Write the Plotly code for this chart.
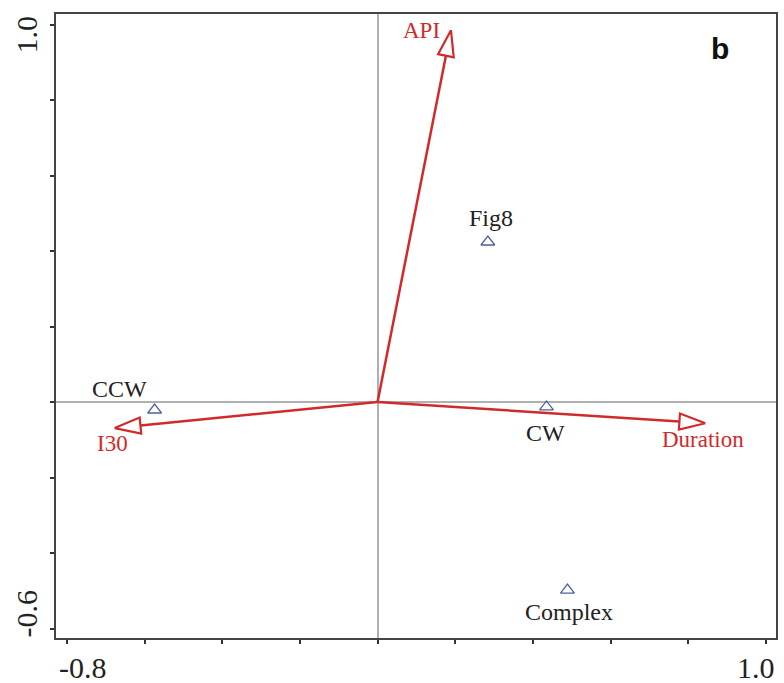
import numpy as np
import plotly.graph_objects as go

# Sample (site) scores
site_names = ["Fig8", "CCW", "CW", "Complex"]
site_x = [0.284, -0.574, 0.435, 0.489]
site_y = [0.424, -0.021, -0.013, -0.498]

# Environmental variable arrows (tips)
env_names = ["API", "I30", "Duration"]
env_x = [0.189, -0.677, 0.844]
env_y = [0.985, -0.069, -0.056]

# Axis ticks
tick_x = [-0.8, -0.6, -0.4, -0.2, 0.0, 0.2, 0.4, 0.6, 0.8, 1.0]
tick_y = [-0.6, -0.4, -0.2, 0.0, 0.2, 0.4, 0.6, 0.8, 1.0]
xlabels = {-0.8: "-0.8", 1.0: "1.0"}
ylabels = {-0.6: "-0.6", 1.0: "1.0"}

W, H = 784, 683
ML, MR, MT, MB = 56, 6, 14, 45
XR = [-0.828, 1.026]
YR = [-0.625, 1.028]
sx = (W - ML - MR) / (XR[1] - XR[0])
sy = (H - MT - MB) / (YR[1] - YR[0])

RED = "#d12a2a"
BLUE = "#4f5f9c"
SERIF = "Liberation Serif, Times New Roman, serif"

fig = go.Figure()

# arrows
for name, tx, ty in zip(env_names, env_x, env_y):
    px, py = tx * sx, ty * sy
    n = np.hypot(px, py)
    ux, uy = px / n, py / n
    L, Wd = 26, 8
    bx, by = px - L * ux, py - L * uy
    nx, ny = -uy, ux
    fig.add_trace(go.Scatter(x=[0, bx / sx], y=[0, by / sy], mode="lines",
                             line=dict(color=RED, width=2.5), hoverinfo="skip",
                             showlegend=False))
    hx = [tx, (bx + Wd * nx) / sx, (bx - Wd * nx) / sx, tx]
    hy = [ty, (by + Wd * ny) / sy, (by - Wd * ny) / sy, ty]
    fig.add_trace(go.Scatter(x=hx, y=hy, mode="lines", fill="toself",
                             fillcolor="white", line=dict(color=RED, width=2.2),
                             hoverinfo="skip", showlegend=False))

fig.add_trace(go.Scatter(x=site_x, y=site_y, mode="markers",
                         marker=dict(symbol="triangle-up-open", size=12,
                                     color=BLUE, line=dict(width=1.3)),
                         showlegend=False))

annotations = []
site_shift = {"Fig8": (3, 24), "CCW": (-35, 21), "CW": (-1, -26), "Complex": (2, -22)}
for name, x, y in zip(site_names, site_x, site_y):
    dx, dy = site_shift[name]
    annotations.append(dict(x=x, y=y, text=name, showarrow=False, xshift=dx, yshift=dy,
                            xanchor="center", yanchor="middle",
                            font=dict(family=SERIF, size=24, color="#222222")))
env_shift = {"API": (-29, 0), "I30": (-2, -15), "Duration": (-2, -16)}
for name, x, y in zip(env_names, env_x, env_y):
    dx, dy = env_shift[name]
    annotations.append(dict(x=x, y=y, text=name, showarrow=False, xshift=dx, yshift=dy,
                            xanchor="center", yanchor="middle",
                            font=dict(family=SERIF, size=23, color=RED)))

xl_shift = {-0.8: 16, 1.0: -10}
for v, t in xlabels.items():
    annotations.append(dict(x=v, y=0, yref="paper", text=t, showarrow=False,
                            xshift=xl_shift[v], yshift=-29,
                            xanchor="center", yanchor="middle",
                            font=dict(family=SERIF, size=30, color="#222222")))
yl_shift = {-0.6: 15, 1.0: -10}
for v, t in ylabels.items():
    annotations.append(dict(x=0, xref="paper", y=v, text=t, showarrow=False,
                            xshift=-29, yshift=yl_shift[v], textangle=-90,
                            xanchor="center", yanchor="middle",
                            font=dict(family=SERIF, size=30, color="#222222")))

annotations.append(dict(x=1, y=1, xref="paper", yref="paper", text="<b>b</b>",
                        showarrow=False, xshift=-56, yshift=-34,
                        xanchor="center", yanchor="middle",
                        font=dict(family="Liberation Sans, Arial, sans-serif", size=30,
                                  color="#111111")))

fig.update_layout(
    width=W, height=H,
    margin=dict(l=ML, r=MR, t=MT, b=MB),
    paper_bgcolor="white", plot_bgcolor="white",
    annotations=annotations,
    xaxis=dict(range=XR, tickvals=tick_x, showticklabels=False, ticks="outside",
               ticklen=4, tickwidth=2, tickcolor="#333", showgrid=False,
               zeroline=True, zerolinecolor="#b0b0b0", zerolinewidth=1.5,
               showline=True, mirror=True, linecolor="#444", linewidth=2),
    yaxis=dict(range=YR, tickvals=tick_y, showticklabels=False, ticks="outside",
               ticklen=4, tickwidth=2, tickcolor="#333", showgrid=False,
               zeroline=True, zerolinecolor="#b0b0b0", zerolinewidth=1.5,
               showline=True, mirror=True, linecolor="#444", linewidth=2),
)

fig.write_html("out.html")
